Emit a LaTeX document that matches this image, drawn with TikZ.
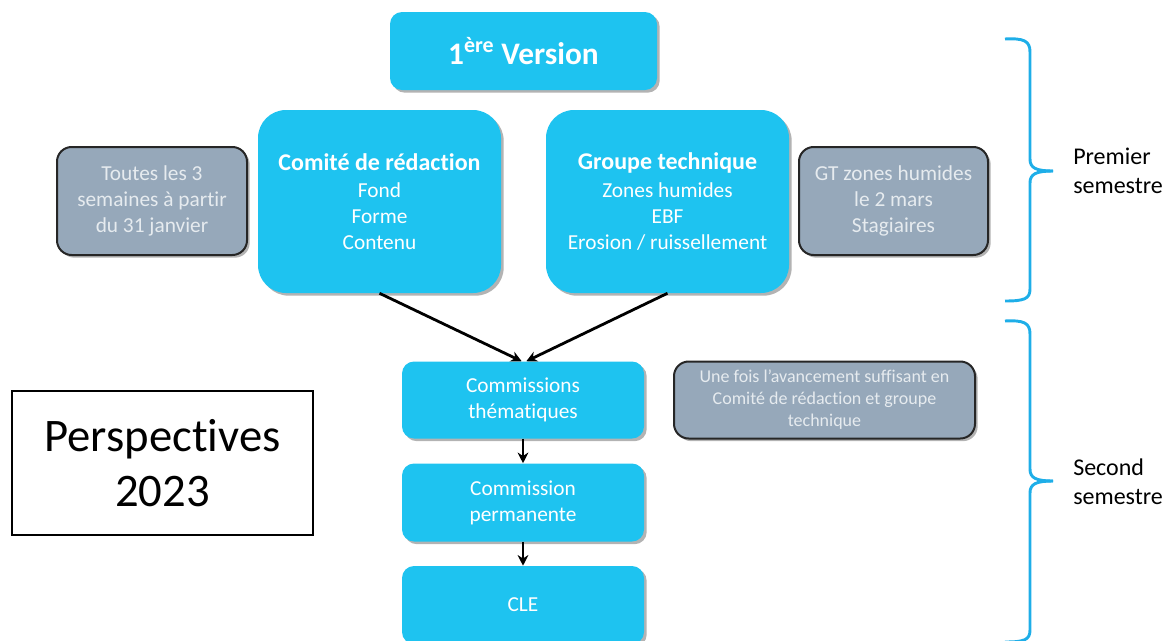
\documentclass[tikz,border=0pt]{standalone}
\usepackage{fontspec}
\setmainfont{Carlito}[RawFeature=-liga]
\usetikzlibrary{arrows.meta,shadows}
\definecolor{cCyan}{HTML}{1EC3F0}
\definecolor{cGray}{HTML}{96A8BA}
\definecolor{cGrayText}{HTML}{E6EBEF}
\definecolor{cBrace}{HTML}{1EAEE8}
\definecolor{cShadow}{HTML}{808080}
\tikzset{
  basebox/.style={inner sep=0pt, align=center,
    drop shadow={shadow xshift=2pt, shadow yshift=-2pt, fill=cShadow, opacity=0.6}},
  cyanbox/.style={basebox, fill=cCyan, text=white, rounded corners=9pt,
    font=\fontsize{16}{19.5}\selectfont},
  bigcyan/.style={cyanbox, rounded corners=21pt},
  graynote/.style={basebox, fill=cGray, draw=black!85, line width=1.5pt,
    text=cGrayText, rounded corners=11pt, font=\fontsize{16}{19.5}\selectfont},
  flow/.style={draw=black, line width=2.1pt, -{Stealth[length=8pt,width=8pt]}},
  bracepath/.style={draw=cBrace, line width=2.2pt},
  semlabel/.style={anchor=west, align=left, inner sep=0pt,
    font=\fontsize{18}{21.75}\selectfont},
}
\begin{document}
\begin{tikzpicture}[x=0.75pt,y=-0.75pt]
\useasboundingbox (0,0) rectangle (1165,640);
\clip (0,0) rectangle (1165,640);

\node[cyanbox, minimum width=200.25pt, minimum height=58.5pt,
  font=\fontsize{23.5}{27}\selectfont\bfseries] (v1) at (523.5,51)
  {1\textsuperscript{ère} Version};

\node[bigcyan, minimum width=182.25pt, minimum height=137.25pt] (cr) at (379.5,201.5)
  {{\fontsize{18}{20}\selectfont\bfseries Comité de rédaction}\\[1pt] Fond\\ Forme\\ Contenu};
\node[bigcyan, minimum width=182.25pt, minimum height=137.25pt] (gt) at (667.5,201.5)
  {{\fontsize{18}{20}\selectfont\bfseries Groupe technique}\\[1pt] Zones humides\\ EBF\\ Erosion / ruissellement};

\node[graynote, minimum width=142.5pt, minimum height=81pt] (n1) at (152,201)
  {Toutes les 3\\ semaines à partir\\ du 31 janvier};
\node[graynote, minimum width=141.75pt, minimum height=81pt] (n2) at (893.5,201)
  {GT zones humides\\ le 2 mars\\ Stagiaires};

\node[cyanbox, minimum width=181.5pt, minimum height=57.75pt] (ct) at (523,400)
  {Commissions\\ thématiques};
\node[graynote, minimum width=225.75pt, minimum height=57.75pt,
  font=\fontsize{13.5}{16.5}\selectfont] (n3) at (824.5,400)
  {Une fois l’avancement suffisant en\\ Comité de rédaction et groupe\\ technique};
\node[cyanbox, minimum width=181.5pt, minimum height=58.5pt] (cp) at (523,502.5)
  {Commission\\ permanente};
\node[cyanbox, minimum width=181.5pt, minimum height=58.5pt] (cle) at (523,605)
  {CLE};

\node[draw=black, line width=1.1pt, fill=white, inner sep=0pt, align=center,
  minimum width=225.75pt, minimum height=108pt,
  font=\fontsize{35}{41.5}\selectfont] (persp) at (162.5,463)
  {Perspectives\\ 2023};

\draw[flow] (cr.south) -- ([xshift=-1pt]ct.north);
\draw[flow] (gt.south) -- ([xshift=2.5pt]ct.north);
\draw[flow] (ct.south) -- (cp.north);
\draw[flow] (cp.south) -- (cle.north);

% braces
\draw[bracepath] (1005,39) .. controls (1024,38) and (1030,41) .. (1030,52)
  -- (1030,159) .. controls (1030,168) and (1036,171) .. (1053,171);
\draw[bracepath] (1053,171) .. controls (1036,171) and (1030,174) .. (1030,183)
  -- (1030,289) .. controls (1030,299) and (1024,301) .. (1005,301);
\draw[bracepath] (1005,321) .. controls (1024,320) and (1030,323) .. (1030,334)
  -- (1030,469) .. controls (1030,478) and (1036,481) .. (1053,481);
\draw[bracepath] (1053,481) .. controls (1036,481) and (1030,484) .. (1030,493)
  -- (1030,630) .. controls (1030,640) and (1024,642) .. (1005,642);

\node[semlabel] (l1) at (1073,171) {Premier\\ semestre};
\node[semlabel] (l2) at (1073,482) {Second\\ semestre};
\end{tikzpicture}
\end{document}
